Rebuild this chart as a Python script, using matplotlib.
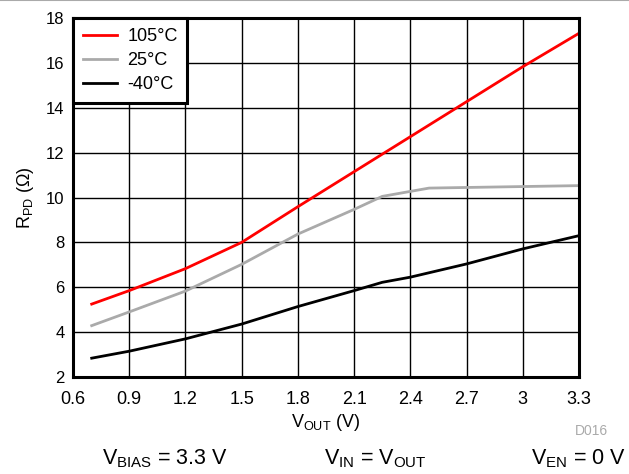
import matplotlib
matplotlib.use("Agg")
import matplotlib.pyplot as plt
from matplotlib.lines import Line2D

plt.rcParams['font.family'] = ['Liberation Sans', 'DejaVu Sans']
plt.rcParams['mathtext.fontset'] = 'custom'
plt.rcParams['mathtext.rm'] = 'Liberation Sans'
plt.rcParams['mathtext.it'] = 'Liberation Sans'
plt.rcParams['mathtext.default'] = 'regular'

# pull-down resistance vs output voltage
vout_hot = [0.7, 0.9, 1.2, 1.5, 1.8, 2.1, 2.4, 2.7, 3.0, 3.3]
rpd_hot = [5.25, 5.85, 6.83, 8.0, 9.59, 11.15, 12.71, 14.27, 15.83, 17.32]

vout_room = [0.7, 0.9, 1.2, 1.5, 1.8, 2.1, 2.25, 2.5, 3.3]
rpd_room = [4.29, 4.9, 5.83, 7.02, 8.37, 9.47, 10.05, 10.42, 10.53]

vout_cold = [0.7, 0.9, 1.2, 1.5, 1.8, 2.1, 2.25, 2.4, 2.7, 3.0, 3.3]
rpd_cold = [2.84, 3.15, 3.7, 4.36, 5.14, 5.85, 6.22, 6.45, 7.04, 7.71, 8.3]

xticks = [0.6, 0.9, 1.2, 1.5, 1.8, 2.1, 2.4, 2.7, 3.0, 3.3]
xtick_labels = ['0.6', '0.9', '1.2', '1.5', '1.8', '2.1', '2.4', '2.7', '3', '3.3']
yticks = [2, 4, 6, 8, 10, 12, 14, 16, 18]

fig = plt.figure(figsize=(6.29, 4.74), dpi=100)
ax = fig.add_axes([0.116, 0.2046, 0.8045, 0.7574])

ax.plot(vout_hot, rpd_hot, color='#ff0000', lw=2, label='105°C')
ax.plot(vout_room, rpd_room, color='#aaaaaa', lw=2, label='25°C')
ax.plot(vout_cold, rpd_cold, color='black', lw=2, label='-40°C')

ax.set_xlim(0.6, 3.3)
ax.set_ylim(2, 18)
ax.set_xticks(xticks)
ax.set_xticklabels(xtick_labels)
ax.set_yticks(yticks)
ax.tick_params(axis='x', length=0, labelsize=13, pad=10)
ax.tick_params(axis='y', length=0, labelsize=12, pad=6)
ax.grid(True, color='black', lw=1)
ax.set_axisbelow(True)
for sp in ax.spines.values():
    sp.set_linewidth(2.2)

ax.set_xlabel('$V_{OUT}$ (V)', fontsize=13, labelpad=3)
ax.set_ylabel('$R_{PD}$ (Ω)', fontsize=13, labelpad=7)

leg = ax.legend(loc='upper left', fontsize=13, frameon=True, fancybox=False,
                borderaxespad=0, handlelength=1.9, handletextpad=0.55,
                labelspacing=0.4, borderpad=0.55)
leg.get_frame().set_edgecolor('black')
leg.get_frame().set_linewidth(2.2)
leg.get_frame().set_alpha(1)

fig.text(0.94, 0.082, 'D016', color='#aaaaaa', fontsize=10, ha='center')
fig.text(0.262, 0.021, '$V_{BIAS}$ = 3.3 V', fontsize=15.5, ha='center')
fig.text(0.596, 0.021, '$V_{IN}$ = $V_{OUT}$', fontsize=15.5, ha='center')
fig.text(0.995, 0.021, '$V_{EN}$ = 0 V', fontsize=15.5, ha='right')

fig.add_artist(Line2D([0, 1], [0.999, 0.999], color='#aaaaaa', lw=1.5,
                      transform=fig.transFigure))

fig.savefig('out.png', dpi=100)
